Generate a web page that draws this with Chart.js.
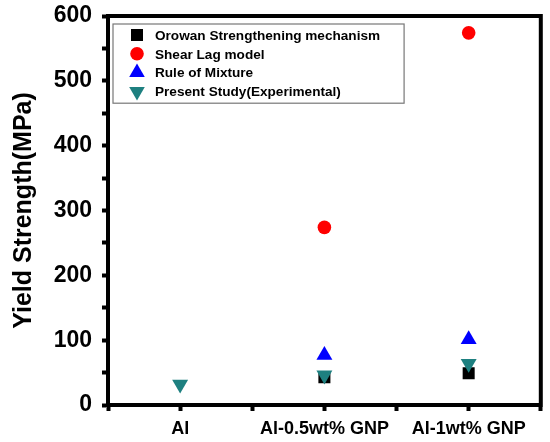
<!DOCTYPE html>
<html>
<head>
<meta charset="utf-8">
<script src="https://cdn.jsdelivr.net/npm/chart.js@4/dist/chart.umd.min.js"></script>
<style>
  html, body { margin: 0; padding: 0; background: #fff; }
  #wrap { width: 550px; height: 442px; position: relative; }
</style>
</head>
<body>
<div id="wrap"><canvas id="myChart"></canvas></div>
<script>
// categories on the x axis
const categories = ['Al', 'Al-0.5wt% GNP', 'Al-1wt% GNP'];

// yield strength values (MPa), null = no point
const orowan = [null, 43, 49];
const shearLag = [null, 274, 574];
const ruleOfMixture = [null, 77, 101];
const presentStudy = [32, 46, 64];

const seriesLabels = [
    'Orowan Strengthening mechanism',
    'Shear Lag model',
    'Rule of Mixture',
    'Present Study(Experimental)'
];

const FONT = 'Arial, "Liberation Sans", sans-serif';

function toPoints(values) {
    return values
        .map((v, i) => (v === null ? null : { x: i, y: v }))
        .filter(p => p !== null);
}

// border round the whole plot area
const framePlugin = {
    id: 'frame',
    afterDraw(chart) {
        const { ctx, chartArea } = chart;
        ctx.save();
        ctx.strokeStyle = '#000';
        ctx.lineWidth = 4;
        ctx.strokeRect(chartArea.left, chartArea.top, chartArea.right - chartArea.left, chartArea.bottom - chartArea.top);
        ctx.restore();
    }
};

// legend box in the upper left corner of the plot
const boxLegendPlugin = {
    id: 'boxLegend',
    afterDraw(chart) {
        const { ctx, chartArea } = chart;
        const left = chartArea.left + 5;
        const top = chartArea.top + 8;
        const rowH = 18.8;
        const datasets = chart.data.datasets;
        ctx.save();
        ctx.font = 'bold 13.6px ' + FONT;
        let maxW = 0;
        datasets.forEach(ds => { maxW = Math.max(maxW, ctx.measureText(ds.label).width); });
        const boxW = 42 + maxW + 24;
        const boxH = rowH * datasets.length + 4;
        ctx.fillStyle = '#fff';
        ctx.fillRect(left, top, boxW, boxH);
        ctx.strokeStyle = '#777';
        ctx.lineWidth = 1.2;
        ctx.strokeRect(left, top, boxW, boxH);
        datasets.forEach((ds, i) => {
            const cy = top + 11 + i * rowH;
            ctx.fillStyle = ds.backgroundColor;
            ctx.strokeStyle = ds.backgroundColor;
            Chart.helpers.drawPoint(ctx, {
                pointStyle: ds.pointStyle,
                rotation: ds.pointRotation || 0,
                radius: ds.legendRadius,
                borderWidth: 0
            }, left + 24, cy);
            ctx.fillStyle = '#000';
            ctx.textBaseline = 'middle';
            ctx.textAlign = 'left';
            ctx.fillText(ds.label, left + 42, cy + 1);
        });
        ctx.restore();
    }
};

const teal = '#1e8080';

const data = {
    datasets: [
        {
            label: seriesLabels[0],
            data: toPoints(orowan),
            pointStyle: 'rect',
            pointRadius: 8.5,
            legendRadius: 8.5,
            backgroundColor: '#000',
            borderColor: '#000',
            borderWidth: 0,
            order: 3
        },
        {
            label: seriesLabels[1],
            data: toPoints(shearLag),
            pointStyle: 'circle',
            pointRadius: 6.8,
            legendRadius: 6.8,
            backgroundColor: '#ff0000',
            borderColor: '#ff0000',
            borderWidth: 0,
            order: 2
        },
        {
            label: seriesLabels[2],
            data: toPoints(ruleOfMixture),
            pointStyle: 'triangle',
            pointRadius: 9.2,
            legendRadius: 9,
            backgroundColor: '#0000ff',
            borderColor: '#0000ff',
            borderWidth: 0,
            order: 1
        },
        {
            label: seriesLabels[3],
            data: toPoints(presentStudy),
            pointStyle: 'triangle',
            pointRotation: 180,
            pointRadius: 9.2,
            legendRadius: 9,
            backgroundColor: teal,
            borderColor: teal,
            borderWidth: 0,
            order: 0
        }
    ]
};

const config = {
    type: 'scatter',
    data,
    options: {
        responsive: true,
        maintainAspectRatio: false,
        animation: false,
        layout: { padding: { top: 16, right: 2, left: 0, bottom: 0 } },
        plugins: {
            legend: { display: false },
            tooltip: { enabled: false }
        },
        scales: {
            x: {
                type: 'linear',
                min: -0.5,
                max: 2.5,
                afterFit(scale) {
                    scale.height = 37;
                    scale.paddingLeft = 0;
                    scale.paddingRight = 0;
                },
                border: { display: true, color: '#000', width: 4 },
                grid: {
                    drawOnChartArea: false,
                    drawTicks: true,
                    tickLength: 6,
                    tickWidth: 4,
                    tickColor: '#000'
                },
                ticks: {
                    stepSize: 0.5,
                    autoSkip: false,
                    maxRotation: 0,
                    padding: 7,
                    color: '#000',
                    font: { family: FONT, size: 18, weight: 'bold' },
                    callback: v => (Number.isInteger(v) && categories[v] !== undefined ? categories[v] : '')
                }
            },
            y: {
                min: 0,
                max: 600,
                afterFit(scale) {
                    scale.width = 108;
                    scale.paddingTop = 0;
                    scale.paddingBottom = 0;
                },
                border: { display: true, color: '#000', width: 4 },
                grid: {
                    drawOnChartArea: false,
                    drawTicks: true,
                    tickLength: 6,
                    tickWidth: 4,
                    tickColor: '#000'
                },
                ticks: {
                    stepSize: 50,
                    autoSkip: false,
                    padding: 10,
                    color: '#000',
                    font: { family: FONT, size: 23, weight: 'bold' },
                    callback: v => (v % 100 === 0 ? String(v) : '')
                },
                title: {
                    display: true,
                    text: 'Yield Strength(MPa)',
                    color: '#000',
                    padding: { top: 9, bottom: 6 },
                    font: { family: FONT, size: 25, weight: 'bold' }
                }
            }
        }
    },
    plugins: [framePlugin, boxLegendPlugin]
};

const myChart = new Chart(document.getElementById('myChart').getContext('2d'), config);
</script>
</body>
</html>
